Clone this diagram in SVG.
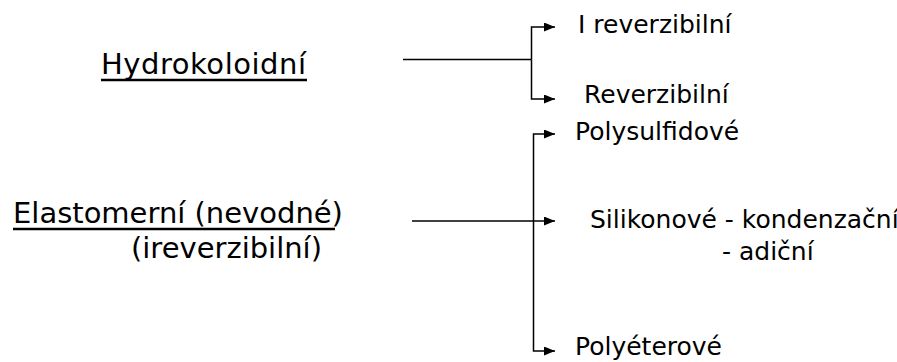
<svg xmlns="http://www.w3.org/2000/svg" width="897" height="362" viewBox="0 0 897 362">
<style>
text{font-family:"DejaVu Sans","Liberation Sans",sans-serif;fill:#000}
.big{font-size:29px}
.sm{font-size:25px}
.ln{stroke:#000;stroke-width:1.5;fill:none}
.ul{stroke:#000;stroke-width:2.5}
</style>
<defs>
<marker id="ah" markerWidth="11" markerHeight="9" refX="11" refY="4.5" orient="auto" markerUnits="userSpaceOnUse">
<path d="M0,0 L11,4.5 L0,9 Z" fill="#000"/>
</marker>
</defs>
<rect width="897" height="362" fill="#fff"/>
<g id="hydrokoloidni">
<text class="big" x="101" y="74" textLength="205" lengthAdjust="spacing">Hydrokoloidní</text>
<line class="ul" x1="101" y1="80" x2="307" y2="80"/>
</g>
<g id="elastomerni">
<text class="big" x="13" y="223">Elastomerní (nevodné)</text>
<line class="ul" x1="13" y1="229" x2="335" y2="229"/>
<text class="big" x="131" y="258">(ireverzibilní)</text>
</g>
<g id="ireverzibilni"><text class="sm" x="578" y="33">I reverzibilní</text></g>
<g id="reverzibilni"><text class="sm" x="584" y="103">Reverzibilní</text></g>
<g id="polysulfidove"><text class="sm" x="575" y="140">Polysulfidové</text></g>
<g id="silikonove">
<text class="sm" x="590" y="228">Silikonové - kondenzační</text>
<text class="sm" x="722" y="260">- adiční</text>
</g>
<g id="polyeterove"><text class="sm" x="575" y="355">Polyéterové</text></g>
<g id="connectors">
<line class="ln" x1="403" y1="59.5" x2="531.5" y2="59.5"/>
<path class="ln" d="M531.5,59.5 V27 H555" marker-end="url(#ah)"/>
<path class="ln" d="M531.5,59.5 V99 H555" marker-end="url(#ah)"/>
<path class="ln" d="M412,221 H555" marker-end="url(#ah)"/>
<path class="ln" d="M533.5,221 V134 H555" marker-end="url(#ah)"/>
<path class="ln" d="M533.5,221 V351 H555" marker-end="url(#ah)"/>
</g>
</svg>
